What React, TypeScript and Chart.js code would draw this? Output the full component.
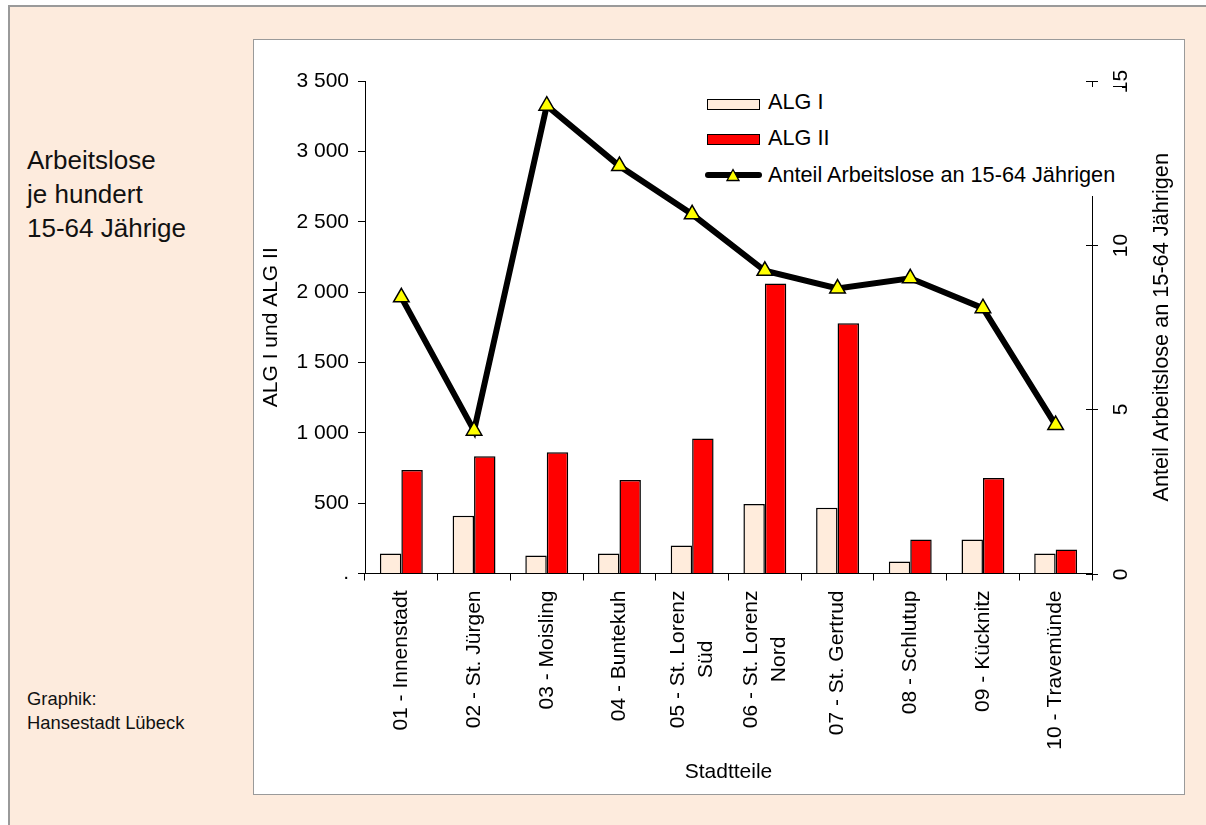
import React, { useEffect, useRef } from 'react';
import { Chart, registerables } from 'chart.js';

Chart.register(...registerables);

const FONT = '"Liberation Sans", Arial, Helvetica, sans-serif';

const categories: string[][] = [
  ['01 - Innenstadt'],
  ['02 - St. Jürgen'],
  ['03 - Moisling'],
  ['04 - Buntekuh'],
  ['05 - St. Lorenz', 'Süd'],
  ['06 - St. Lorenz', 'Nord'],
  ['07 - St. Gertrud'],
  ['08 - Schlutup'],
  ['09 - Kücknitz'],
  ['10 - Travemünde'],
];
const alg1 = [142, 410, 128, 142, 199, 494, 467, 86, 241, 142];
const alg2 = [735, 834, 862, 664, 960, 2061, 1779, 241, 678, 171];
const anteil = [8.41, 4.35, 14.25, 12.41, 10.94, 9.22, 8.68, 8.99, 8.08, 4.52];

const leftMax = 3500;
const leftStep = 500;
const rightMax = 15;
const rightTicks = [0, 5, 10, 15];

const labelALG1 = 'ALG I';
const labelALG2 = 'ALG II';
const labelAnteil = 'Anteil Arbeitslose an 15-64 Jährigen';
const xTitle = 'Stadtteile';
const yTitle = 'ALG I und ALG II';
const y1Title = 'Anteil Arbeitslose an 15-64 Jährigen';

const BG = '#FDEBDD';
const ALG1_COLOR = '#FFECDC';
const ALG2_COLOR = '#FF0000';
const MARKER = '#FFFF00';

function fmtLeft(v: number): string {
  if (v === 0) return '.';
  if (v >= 1000) return Math.floor(v / 1000) + ' ' + String(v % 1000).padStart(3, '0');
  return String(v);
}

const drawExtras = {
  id: 'drawExtras',
  afterDraw(chart: any) {
    const ctx = chart.ctx;
    const xs = chart.scales.x;
    const y1 = chart.scales.y1;
    const area = chart.chartArea;
    ctx.save();
    ctx.fillStyle = '#000';
    ctx.strokeStyle = '#000';
    ctx.lineWidth = 1;
    ctx.font = `21px ${FONT}`;
    ctx.textAlign = 'center';
    ctx.textBaseline = 'middle';
    rightTicks.forEach((v) => {
      const y = Math.round(y1.getPixelForValue(v)) + 0.5;
      ctx.beginPath();
      ctx.moveTo(area.right - 6, y);
      ctx.lineTo(area.right + 6, y);
      ctx.stroke();
      ctx.save();
      ctx.translate(area.right + 29, y);
      ctx.rotate(-Math.PI / 2);
      ctx.fillText(String(v), 0, 0);
      ctx.restore();
    });
    ctx.save();
    ctx.font = `21.7px ${FONT}`;
    ctx.translate(area.right + 70, (area.top + area.bottom) / 2);
    ctx.rotate(-Math.PI / 2);
    ctx.fillText(y1Title, 0, 0);
    ctx.restore();
    const lh = 28;
    categories.forEach((lines, i) => {
      const x = xs.getPixelForValue(i);
      const widths = lines.map((l) => ctx.measureText(l).width);
      const maxW = Math.max(...widths);
      ctx.save();
      ctx.translate(x, area.bottom + 17);
      ctx.rotate(-Math.PI / 2);
      ctx.textAlign = 'center';
      lines.forEach((l, k) => {
        const v = (k - (lines.length - 1) / 2) * lh;
        ctx.fillText(l, -maxW / 2, v);
      });
      ctx.restore();
    });
    ctx.restore();
  },
};

function ChartCanvas() {
  const ref = useRef<HTMLCanvasElement | null>(null);
  useEffect(() => {
    if (!ref.current) return;
    Chart.defaults.font.family = FONT;
    const chart = new Chart(ref.current, {
      type: 'bar',
      data: {
        labels: categories.map((c) => c.join(' ')),
        datasets: [
          {
            type: 'line',
            label: labelAnteil,
            data: anteil,
            yAxisID: 'y1',
            borderColor: '#000',
            borderWidth: 6,
            pointStyle: 'triangle',
            pointRadius: 9,
            pointBackgroundColor: MARKER,
            pointBorderColor: '#000',
            pointBorderWidth: 1.5,
            tension: 0,
            fill: false,
            order: 0,
          } as any,
          {
            label: labelALG1,
            data: alg1,
            yAxisID: 'y',
            backgroundColor: ALG1_COLOR,
            borderColor: '#000',
            borderWidth: 1.5,
            barPercentage: 1,
            categoryPercentage: 0.59,
            order: 1,
          },
          {
            label: labelALG2,
            data: alg2,
            yAxisID: 'y',
            backgroundColor: ALG2_COLOR,
            borderColor: '#000',
            borderWidth: 1.5,
            barPercentage: 1,
            categoryPercentage: 0.59,
            order: 1,
          },
        ],
      },
      options: {
        responsive: false,
        animation: false,
        devicePixelRatio: 1,
        layout: { padding: { top: 42, left: 0, right: 0, bottom: 0 } },
        plugins: { legend: { display: false }, tooltip: { enabled: false } },
        scales: {
          x: {
            grid: { display: true, drawOnChartArea: false, drawTicks: true, tickLength: 7, color: '#000', offset: true },
            border: { display: true, color: '#000', width: 1 },
            ticks: { display: false },
            title: {
              display: true,
              text: xTitle,
              color: '#000',
              font: { size: 21, family: FONT },
              padding: { top: 0, bottom: 10 },
            },
            afterFit: (s: any) => { s.height = 221.5; },
          },
          y: {
            position: 'left',
            min: 0,
            max: leftMax,
            ticks: {
              stepSize: leftStep,
              callback: (v: any) => fmtLeft(Number(v)),
              color: '#000',
              font: { size: 21, family: FONT },
              padding: 9,
            },
            grid: { display: true, drawOnChartArea: false, drawTicks: true, tickLength: 7, color: '#000' },
            border: { display: true, color: '#000', width: 1 },
            title: {
              display: true,
              text: yTitle,
              color: '#000',
              font: { size: 21, family: FONT },
              padding: { top: 6, bottom: 0 },
            },
            afterFit: (s: any) => { s.width = 112; },
          },
          y1: {
            position: 'right',
            min: 0,
            max: rightMax,
            ticks: { display: false, stepSize: 5 },
            grid: { display: true, drawOnChartArea: false, drawTicks: false, color: '#000' },
            border: { display: true, color: '#000', width: 1 },
            afterFit: (s: any) => { s.width = 93; },
          },
        },
      } as any,
      plugins: [drawExtras],
    });
    return () => chart.destroy();
  }, []);
  return (
    <canvas
      ref={ref}
      width={932}
      height={756}
      style={{ position: 'absolute', left: 253, top: 39, width: 932, height: 756 }}
    />
  );
}

function Legend() {
  const text: React.CSSProperties = {
    position: 'absolute',
    left: 768,
    height: 24,
    lineHeight: '24px',
    fontSize: 21.7,
    fontFamily: FONT,
    color: '#000',
    whiteSpace: 'nowrap',
  };
  return (
    <>
      <div style={{ position: 'absolute', left: 700, top: 87, width: 422, height: 109, background: '#fff' }} />
      <div style={{ position: 'absolute', left: 707, top: 99, width: 53, height: 11, background: ALG1_COLOR, border: '1.5px solid #000', boxSizing: 'border-box' }} />
      <div style={{ ...text, top: 90 }}>{labelALG1}</div>
      <div style={{ position: 'absolute', left: 707, top: 134, width: 53, height: 11, background: ALG2_COLOR, border: '1.5px solid #000', boxSizing: 'border-box' }} />
      <div style={{ ...text, top: 126 }}>{labelALG2}</div>
      <div style={{ position: 'absolute', left: 705, top: 172, width: 57, height: 6, background: '#000', borderRadius: 3 }} />
      <svg style={{ position: 'absolute', left: 726, top: 168 }} width={14} height={14}>
        <polygon points="7,1.5 13,12.5 1,12.5" fill={MARKER} stroke="#000" strokeWidth={1.3} />
      </svg>
      <div style={{ ...text, top: 163 }}>{labelAnteil}</div>
    </>
  );
}

export default function App() {
  return (
    <div style={{ position: 'fixed', left: 0, top: 0, width: 1206, height: 825, overflow: 'hidden', background: '#fff' }}>
      <div style={{ position: 'absolute', left: 8, top: 5, width: 1300, height: 1000, background: BG, borderLeft: '2px solid #9a9a9a', borderTop: '2px solid #9a9a9a' }} />
      <div style={{ position: 'absolute', left: 27, top: 143, fontFamily: FONT, fontSize: 26, lineHeight: '34px', color: '#111' }}>
        Arbeitslose<br />je hundert<br />15-64 Jährige
      </div>
      <div style={{ position: 'absolute', left: 27, top: 687, fontFamily: FONT, fontSize: 18.4, lineHeight: '24px', color: '#111' }}>
        Graphik:<br />Hansestadt Lübeck
      </div>
      <div style={{ position: 'absolute', left: 253, top: 39, width: 932, height: 756, background: '#fff', border: '1px solid #9a9a9a', boxSizing: 'border-box' }} />
      <ChartCanvas />
      <Legend />
    </div>
  );
}
